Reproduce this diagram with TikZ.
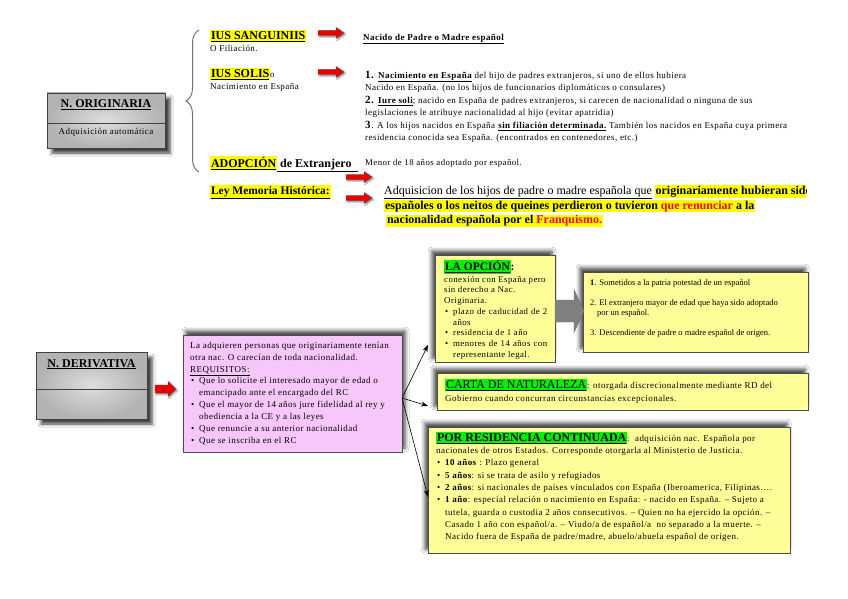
\documentclass[tikz,border=0pt]{standalone}
\usepackage{fontspec}
\setmainfont{Liberation Serif}
\newfontfamily\lsp{Liberation Serif}[LetterSpace=5]
\usetikzlibrary{decorations.pathreplacing,shadows.blur,arrows.meta}
\definecolor{hly}{RGB}{255,255,0}
\definecolor{hlg}{RGB}{0,240,0}
\definecolor{boxyel}{RGB}{255,255,153}
\definecolor{boxpink}{RGB}{247,198,250}
\definecolor{grayin}{RGB}{222,222,222}
\definecolor{grayout}{RGB}{178,178,178}
\definecolor{arrred}{RGB}{235,0,0}
\definecolor{txtred}{RGB}{255,0,0}
\newcommand\HLy[1]{{\setlength{\fboxsep}{0.8pt}\colorbox{hly}{#1}}}
\newcommand\HLg[1]{{\setlength{\fboxsep}{0.8pt}\colorbox{hlg}{#1}}}
\newcommand\bl{\makebox[9pt][l]{\hspace{1pt}\textbullet}}
\newcommand\ind{\hspace*{9pt}}
\newcommand\ts{\rule{0pt}{10pt}}
\newcommand\fh{\fontsize{12}{13}\selectfont\bfseries}
\newcommand\blockarrow[7][]{\path[#1] (#2,#3-#5) -- (#2+#4-#7,#3-#5) -- (#2+#4-#7,#3-#6) -- (#2+#4,#3) -- (#2+#4-#7,#3+#6) -- (#2+#4-#7,#3+#5) -- (#2,#3+#5) -- cycle;}
\setlength{\lineskiplimit}{-30pt}
\begin{document}
\begin{tikzpicture}[x=1pt,y=-1pt,
  txt/.style={anchor=north west, inner sep=0pt, align=left},
  graybox/.style={anchor=north west, inner sep=0pt, outer sep=0pt, draw=black!75, line width=0.6pt, inner color=grayin, outer color=grayout, blur shadow={shadow xshift=5pt, shadow yshift=-5pt, shadow blur radius=3pt, shadow opacity=75}},
  yelbox/.style={anchor=north west, inner sep=0pt, outer sep=0pt, draw=black!70, line width=0.6pt, fill=boxyel, blur shadow={shadow xshift=-3pt, shadow yshift=4pt, shadow blur radius=4pt, shadow opacity=75}},
  pinkbox/.style={anchor=north west, inner sep=0pt, outer sep=0pt, draw=black!70, line width=0.6pt, fill=boxpink, blur shadow={shadow xshift=3pt, shadow yshift=4pt, shadow blur radius=4pt, shadow opacity=75}},
  redarrow/.style={draw=black!65, line width=0.4pt, fill=arrred, blur shadow={shadow xshift=1.2pt, shadow yshift=-1.2pt, shadow blur radius=1pt, shadow opacity=50}},
  grayarrow/.style={draw=black!55, line width=0.4pt, fill=black!50},
  conn/.style={draw=black, line width=0.6pt, -{Stealth[length=7pt,width=5pt]}},
  divider/.style={draw=black!75, line width=0.6pt}
]
\fill[white] (0,0) rectangle (848,599);
\useasboundingbox (0,0) rectangle (848,599);

% ---------- upper part ----------
\node[graybox, minimum width=118pt, minimum height=55pt] (orig) at (47,93) {};
\draw[divider] ([yshift=-30pt]orig.north west) -- ([yshift=-30pt]orig.north east);
\node[anchor=base, inner sep=0pt, font=\fh] (origt) at (106,108) {\underline{N. ORIGINARIA}};
\node[anchor=base, inner sep=0pt, font=\lsp\fontsize{9}{11}\selectfont] (origs) at (106,135) {Adquisición automática};

\draw[black!55, line width=1pt, decorate, decoration={brace, amplitude=13pt}] (199,172) -- (199,30);

\node[txt, font=\fh] (sangt) at (210,29) {\ts\HLy{\underline{IUS SANGUINIIS}}};
\node[txt, font=\lsp\fontsize{9}{12}\selectfont] (sangs) at (210,41) {\ts O Filiación.};
\blockarrow[redarrow]{318}{33}{26}{2.5}{5.5}{8}
\node[txt, font=\lsp\fontsize{9}{12}\selectfont\bfseries] (sangd) at (363,30) {\ts\underline{Nacido de Padre o Madre español}};

\node[txt, font=\fh] (solt) at (210,67) {\ts\HLy{\underline{IUS SOLIS}}{\fontsize{9}{12}\selectfont\mdseries o}};
\node[txt, font=\lsp\fontsize{9}{12}\selectfont] (sols) at (210,79) {\ts Nacimiento en España};
\blockarrow[redarrow]{318}{72}{26}{2.5}{5.5}{8}
\node[txt, font=\lsp\fontsize{9}{12.5}\selectfont] (solx) at (365,68) {\ts{\fontsize{11}{12}\selectfont\textbf{1.}} \textbf{\underline{Nacimiento en España}} del hijo de padres extranjeros, si uno de ellos hubiera\\
Nacido en España. (no los hijos de funcionarios diplomáticos o consulares)\\
{\fontsize{11}{12}\selectfont\textbf{2.}} \textbf{\underline{Iure soli}}; nacido en España de padres extranjeros, si carecen de nacionalidad o ninguna de sus\\
legislaciones le atribuye nacionalidad al hijo (evitar apatridia)\\
{\fontsize{11}{12}\selectfont\textbf{3}}. A los hijos nacidos en España \textbf{\underline{sin filiación determinada.}} También los nacidos en España cuya primera\\
residencia conocida sea España. (encontrados en contenedores, etc.)};

\node[txt, font=\fh] (adop) at (210,156) {\ts\HLy{\underline{ADOPCIÓN}}\underline{ de Extranjero\hspace{6pt}}};
\node[txt, font=\lsp\fontsize{8.8}{12}\selectfont] (adopx) at (365,155) {\ts Menor de 18 años adoptado por español.};
\blockarrow[redarrow]{346}{177}{26}{2.5}{5.5}{8}
\node[txt, font=\fontsize{11.5}{13}\selectfont\bfseries] (ley) at (210,184) {\ts\HLy{\underline{Ley Memoria Histórica:}}};
\blockarrow[redarrow]{346}{198}{26}{2.5}{5.5}{8}
\begin{scope}
\clip (380,175) rectangle (806,235);
\node[txt, font=\fontsize{12}{14.8}\selectfont] (mem) at (384,184) {\ts\underline{Adquisicion de los hijos de padre o madre española que} \HLy{\textbf{originariamente hubieran sido}}\\
\HLy{\textbf{españoles o los neitos de queines perdieron o tuvieron \textcolor{txtred}{que renunciar} a la}}\\
\hspace*{2pt}\HLy{\textbf{nacionalidad española por el \textcolor{txtred}{Franquismo.}}}};
\end{scope}

% ---------- lower part ----------
\node[graybox, minimum width=111pt, minimum height=67pt] (deriv) at (36,352) {};
\draw[divider] ([yshift=-37pt]deriv.north west) -- ([yshift=-37pt]deriv.north east);
\node[anchor=base, inner sep=0pt, font=\fh] (derivt) at (91.5,367) {\underline{N. DERIVATIVA}};
\blockarrow[redarrow]{155}{389}{21}{4}{7.5}{8}

\node[pinkbox, minimum width=219pt, minimum height=117pt] (req) at (183,335) {};
\node[txt, font=\lsp\fontsize{9}{11.9}\selectfont] (reqx) at (190,338) {\ts La adquieren personas que originariamente tenían\\
otra nac. O carecían de toda nacionalidad.\\
\underline{REQUISITOS:}\\
\bl Que lo solicite el interesado mayor de edad o\\
\ind emancipado ante el encargado del RC\\
\bl Que el mayor de 14 años jure fidelidad al rey y\\
\ind obediencia a la CE y a las leyes\\
\bl Que renuncie a su anterior nacionalidad\\
\bl Que se inscriba en el RC};

\node[yelbox, minimum width=120pt, minimum height=107pt] (opc) at (435,255) {};
\node[yelbox, minimum width=225pt, minimum height=80pt] (lst) at (583,272) {};
\node[yelbox, minimum width=371pt, minimum height=37pt] (cart) at (437,373) {};
\node[yelbox, minimum width=362pt, minimum height=126pt] (res) at (428,427) {};

\blockarrow[grayarrow]{555}{311}{29}{11}{21.5}{10}

\node[txt, font=\fontsize{11.5}{13}\selectfont\bfseries] (opct) at (444,260) {\ts\HLg{\underline{LA OPCIÓN}}:};
\node[txt, font=\lsp\fontsize{8.8}{10.7}\selectfont] (opcx) at (444,272) {\ts conexión con España pero\\
sin derecho a Nac.\\
Originaria.\\
\bl\makebox[94pt][s]{plazo de caducidad de 2}\\
\ind años\\
\bl residencia de 1 año\\
\bl\makebox[94pt][s]{menores de 14 años con}\\
\ind representante legal.};

\node[txt, font=\fontsize{8.5}{10}\selectfont] (lstx) at (590,275) {\ts\textbf{1}. Sometidos a la patria potestad de un español\\[10pt]
2. El extranjero mayor de edad que haya sido adoptado\\
\hspace*{7pt}por un español.\\[10pt]
3. Descendiente de padre o madre español de origen.};

\node[txt, font=\lsp\fontsize{9}{13}\selectfont] (cartx) at (445,378) {\ts{\rmfamily\fontsize{12}{13}\selectfont\HLg{\underline{CARTA DE NATURALEZA}}}: otorgada discrecionalmente mediante RD del\\
Gobierno cuando concurran circunstancias excepcionales.};

\node[txt, font=\lsp\fontsize{9}{12.3}\selectfont] (resx) at (436,431) {\ts{\rmfamily\fh\HLg{\underline{POR RESIDENCIA CONTINUADA}}}:\ \ adquisición nac. Española por\\
nacionales de otros Estados. Corresponde otorgarla al Ministerio de Justicia.\\
\bl\textbf{10 años} : Plazo general\\
\bl\textbf{5 años}: si se trata de asilo y refugiados\\
\bl\textbf{2 años}: si nacionales de países vinculados con España (Iberoamerica, Filipinas….\\
\bl\textbf{1 año}: especial relación o nacimiento en España: - nacido en España. – Sujeto a\\
\ind tutela, guarda o custodia 2 años consecutivos. – Quien no ha ejercido la opción. –\\
\ind Casado 1 año con español/a. – Viudo/a de español/a\ \ no separado a la muerte. –\\
\ind Nacido fuera de España de padre/madre, abuelo/abuela español de origen.};

\coordinate (fork) at (402,398);
\coordinate (toOpc) at (428,345);
\coordinate (toCarta) at (428,406);
\coordinate (toRes) at (428,497);
\draw[conn] (fork) -- (toOpc);
\draw[conn] (fork) -- (toCarta);
\draw[conn] (fork) -- (toRes);
\end{tikzpicture}
\end{document}
